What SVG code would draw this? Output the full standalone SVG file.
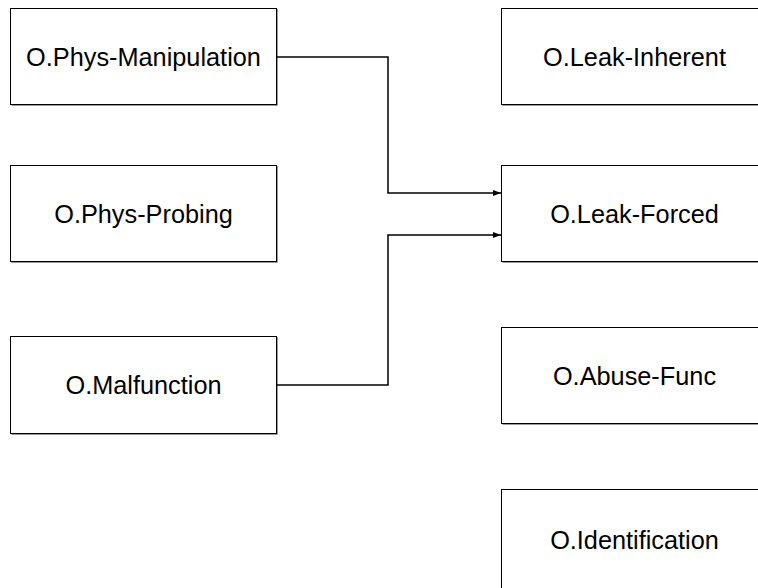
<svg xmlns="http://www.w3.org/2000/svg" width="758" height="588" viewBox="0 0 758 588">
<style>
.box{fill:#fff;stroke:#000;stroke-width:1}
.sh{fill:none;stroke:#999;stroke-width:1}
.lbl{font-family:"Liberation Sans",Arial,sans-serif;font-size:25.3px;fill:#000;text-anchor:middle;dominant-baseline:central}
.c{fill:none;stroke:#000;stroke-width:1.5}
</style>
<defs>
<marker id="arr" markerWidth="8" markerHeight="6" refX="8" refY="3" orient="auto" markerUnits="userSpaceOnUse">
<path d="M0,0 L8,3 L0,6 Z" fill="#000"/>
</marker>
</defs>
<rect width="758" height="588" fill="#fff"/>
<g id="n-phys-manipulation">
<path class="sh" d="M11.5,105.5 H277.5 V9"/>
<rect class="box" x="10.5" y="8.5" width="266" height="96"/>
<text class="lbl" x="143.5" y="57">O.Phys-Manipulation</text>
</g>
<g id="n-phys-probing">
<path class="sh" d="M11.5,262.5 H277.5 V166"/>
<rect class="box" x="10.5" y="165.5" width="266" height="96"/>
<text class="lbl" x="143.5" y="214">O.Phys-Probing</text>
</g>
<g id="n-malfunction">
<path class="sh" d="M11.5,434.5 H277.5 V337"/>
<rect class="box" x="10.5" y="336.5" width="266" height="97"/>
<text class="lbl" x="143.5" y="385">O.Malfunction</text>
</g>
<g id="n-leak-inherent">
<path class="sh" d="M502.5,105.5 H770"/>
<rect class="box" x="501.5" y="8.5" width="266" height="96"/>
<text class="lbl" x="634.5" y="57">O.Leak-Inherent</text>
</g>
<g id="n-leak-forced">
<path class="sh" d="M502.5,262.5 H770"/>
<rect class="box" x="501.5" y="165.5" width="266" height="96"/>
<text class="lbl" x="634.5" y="214">O.Leak-Forced</text>
</g>
<g id="n-abuse-func">
<path class="sh" d="M502.5,424.5 H770"/>
<rect class="box" x="501.5" y="327.5" width="266" height="96"/>
<text class="lbl" x="634.5" y="376">O.Abuse-Func</text>
</g>
<g id="n-identification">
<rect class="box" x="501.5" y="489.5" width="266" height="110"/>
<text class="lbl" x="634.5" y="540">O.Identification</text>
</g>
<g id="connectors">
<path class="c" d="M277,57 H388 V193 H501" marker-end="url(#arr)"/>
<path class="c" d="M277,385 H388 V235 H501" marker-end="url(#arr)"/>
</g>
</svg>
